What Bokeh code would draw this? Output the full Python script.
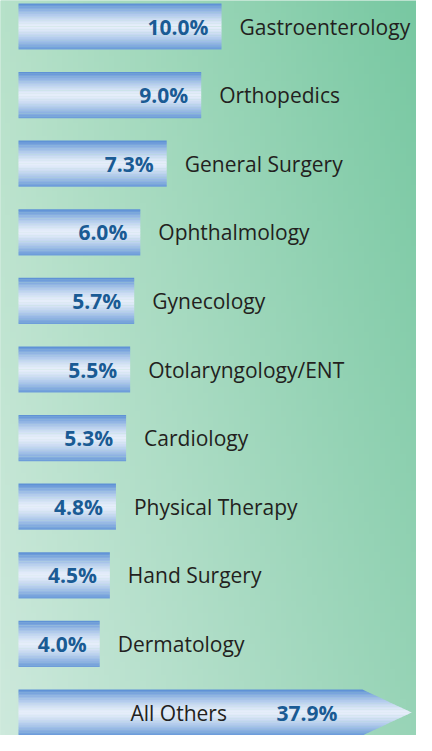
import numpy as np
from bokeh.plotting import figure
from bokeh.models import Range1d, ColumnDataSource
from bokeh.core.properties import value
from bokeh.embed import file_html
from bokeh.resources import INLINE

# ---- data ----
categories = ["Gastroenterology", "Orthopedics", "General Surgery", "Ophthalmology",
              "Gynecology", "Otolaryngology/ENT", "Cardiology", "Physical Therapy",
              "Hand Surgery", "Dermatology"]
shares = [10.0, 9.0, 7.3, 6.0, 5.7, 5.5, 5.3, 4.8, 4.5, 4.0]
other_label = "All Others"
other_share = 37.9

# ---- layout / style constants ----
W, H = 416, 735
PX_PER_UNIT_X = 20.3
X0 = -18 / PX_PER_UNIT_X
X1 = X0 + W / PX_PER_UNIT_X
N = len(categories) + 1
PITCH = 68.6
BAR_PX = 46
FIRST_CENTER_PX = 26
Y1 = (N - 1) + FIRST_CENTER_PX / PITCH
Y0 = Y1 - H / PITCH
BAR_H = BAR_PX / PITCH
ARROW_BODY = 344 / PX_PER_UNIT_X   # display length of the "All Others" arrow body
ARROW_TIP = 393 / PX_PER_UNIT_X

FONT = "Open Sans"
PCT_COLOR = "#1a5b94"
TXT_COLOR = "#231f20"

p = figure(width=W, height=H, output_backend="svg", toolbar_location=None,
           x_range=Range1d(X0, X1), y_range=Range1d(Y0, Y1),
           min_border=0, min_border_left=0, min_border_right=0,
           min_border_top=0, min_border_bottom=0)
p.xaxis.visible = False
p.yaxis.visible = False
p.xgrid.visible = False
p.ygrid.visible = False
p.outline_line_color = None
p.background_fill_color = "#a5d9bf"
p.border_fill_color = "#a5d9bf"

# ---- background gradient ----
def hex2rgb(h):
    h = h.lstrip("#")
    return np.array([int(h[i:i + 2], 16) for i in (0, 2, 4)], dtype=float)

TL, TR, BL, BR = hex2rgb("#b6e1c9"), hex2rgb("#78c8a2"), hex2rgb("#cde9dc"), hex2rgb("#98d4b7")
GH, GW = 120, 80
yy = np.linspace(0, 1, GH)[:, None, None]   # 0 bottom -> 1 top
xx = np.linspace(0, 1, GW)[None, :, None]
col = (BL * (1 - xx) * (1 - yy) + BR * xx * (1 - yy) + TL * (1 - xx) * yy + TR * xx * yy)
col = col.astype(np.uint8)
img = np.empty((GH, GW), dtype=np.uint32)
view = img.view(dtype=np.uint8).reshape((GH, GW, 4))
view[:, :, 0] = col[:, :, 0]
view[:, :, 1] = col[:, :, 1]
view[:, :, 2] = col[:, :, 2]
view[:, :, 3] = 255
p.image_rgba(image=[img], x=X0, y=Y0, dw=X1 - X0, dh=Y1 - Y0)

# ---- bar gradient colours ----
EDGE_TOP = hex2rgb("#588dd4")
EDGE_BOT = hex2rgb("#6899d8")
MID = hex2rgb("#e6eefa")
K = 30

def strip_color(t):
    edge = EDGE_TOP * (1 - t) + EDGE_BOT * t
    w = 1 - abs(2 * t - 1) ** 1.4
    c = edge * (1 - w) + MID * w
    return "#%02x%02x%02x" % tuple(int(round(v)) for v in c)

strip_cols = [strip_color((k + 0.5) / K) for k in range(K)]

ys = [N - 1 - i for i in range(len(categories))]
sy, sr, sc = [], [], []
for yc, v in zip(ys, shares):
    for k in range(K):
        sy.append(yc + BAR_H / 2 - (k + 0.5) * BAR_H / K)
        sr.append(v)
        sc.append(strip_cols[k])
p.hbar(y=sy, left=0, right=sr, height=BAR_H / K * 1.15, fill_color=sc, line_color=None)

# ---- "All Others" arrow ----
y_other = 0
axs, ays, acs = [], [], []
half = BAR_H / 2
def right_edge(y):
    return ARROW_BODY + (ARROW_TIP - ARROW_BODY) * (1 - abs(y - y_other) / half)
for k in range(K):
    ya = y_other + half - k * BAR_H / K
    yb = y_other + half - (k + 1) * BAR_H / K
    ya2 = min(ya + 0.002, y_other + half)
    yb2 = max(yb - 0.002, y_other - half)
    if ya2 > y_other > yb2:
        xs_ = [0, right_edge(ya2), ARROW_TIP, right_edge(yb2), 0]
        ys_ = [ya2, ya2, y_other, yb2, yb2]
    else:
        xs_ = [0, right_edge(ya2), right_edge(yb2), 0]
        ys_ = [ya2, ya2, yb2, yb2]
    axs.append(xs_)
    ays.append(ys_)
    acs.append(strip_cols[k])
p.patches(xs=axs, ys=ays, fill_color=acs, line_color=None)

# ---- labels ----
pct_src = ColumnDataSource(dict(x=shares, y=ys, t=["%.1f%%" % v for v in shares]))
p.text(x="x", y="y", text="t", source=pct_src, text_align="right", text_baseline="middle",
       x_offset=-13, text_font=value(FONT), text_font_style="bold",
       text_font_size="21px", text_color=PCT_COLOR)
cat_src = ColumnDataSource(dict(x=shares, y=ys, t=categories))
p.text(x="x", y="y", text="t", source=cat_src, text_align="left", text_baseline="middle",
       x_offset=18, text_font=value(FONT), text_font_size="21px", text_color=TXT_COLOR)

p.text(x=[0], y=[y_other], text=[other_label], text_align="left", text_baseline="middle",
       x_offset=112, text_font=value(FONT), text_font_size="21px", text_color=TXT_COLOR)
p.text(x=[ARROW_BODY], y=[y_other], text=["%.1f%%" % other_share], text_align="right",
       text_baseline="middle", x_offset=-25, text_font=value(FONT), text_font_style="bold",
       text_font_size="21px", text_color=PCT_COLOR)

open("out.html", "w").write(file_html(p, INLINE))
